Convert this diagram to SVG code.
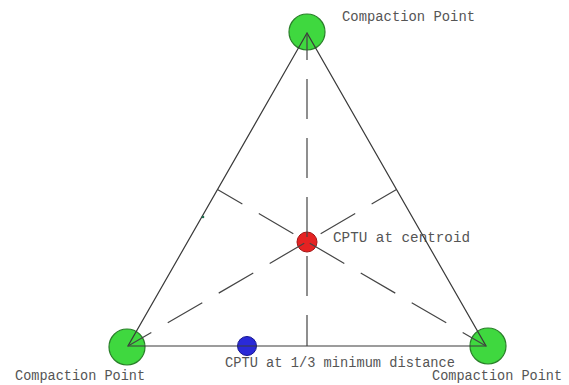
<svg xmlns="http://www.w3.org/2000/svg" width="569" height="385" viewBox="0 0 569 385">
<style>
.bg{fill:#ffffff}
.cp{fill:#3fd83f;stroke:#2a7f2a;stroke-width:1.2}
.red{fill:#e52222;stroke:#a31515;stroke-width:1}
.blue{fill:#2a2ad8;stroke:#15158f;stroke-width:1}
.edge{stroke:#3a3a3a;stroke-width:1.2;fill:none}
.dash{stroke:#454545;stroke-width:1.2;fill:none;stroke-dasharray:40 19;stroke-dashoffset:13}
.lbl{font-family:"Liberation Mono","DejaVu Sans Mono",monospace;font-size:14px;fill:#555555}
</style>
<rect class="bg" x="0" y="0" width="569" height="385"/>
<g id="cp-top"><circle class="cp" cx="307" cy="32" r="18"/><text class="lbl" x="342" y="21" textLength="133" lengthAdjust="spacingAndGlyphs">Compaction Point</text></g>
<g id="cp-left"><circle class="cp" cx="127" cy="347" r="18"/><text class="lbl" x="15" y="380" textLength="130" lengthAdjust="spacingAndGlyphs">Compaction Point</text></g>
<g id="cp-right"><circle class="cp" cx="488" cy="346" r="18"/><text class="lbl" x="432" y="380" textLength="130" lengthAdjust="spacingAndGlyphs">Compaction Point</text></g>
<g id="cptu-centroid"><circle class="red" cx="307" cy="242" r="10"/><text class="lbl" x="333" y="242" textLength="137" lengthAdjust="spacingAndGlyphs">CPTU at centroid</text></g>
<g id="cptu-third"><circle class="blue" cx="247" cy="346" r="9.5"/><text class="lbl" x="225" y="367" textLength="230" lengthAdjust="spacingAndGlyphs">CPTU at 1/3 minimum distance</text></g>
<g id="connectors">
<polygon class="edge" points="307,33 128,346 486,346"/>
<line class="dash" x1="307" y1="33" x2="307" y2="346"/>
<line class="dash" x1="128" y1="346" x2="396.5" y2="189.5"/>
<line class="dash" x1="486" y1="346" x2="217.5" y2="189.5"/>
</g>
<circle cx="203" cy="217" r="1.3" fill="#1f6f4f"/>
</svg>
